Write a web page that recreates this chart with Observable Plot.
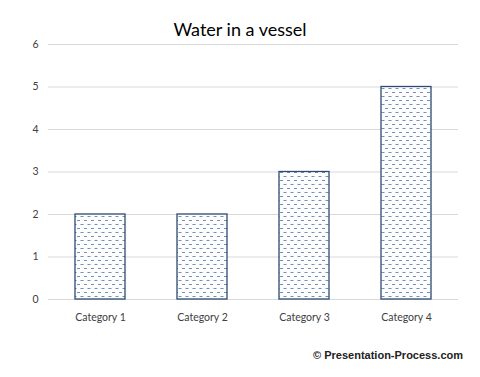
<!DOCTYPE html>
<html>
<head>
<meta charset="utf-8">
<script src="https://cdn.jsdelivr.net/npm/d3@7"></script>
<script src="https://cdn.jsdelivr.net/npm/@observablehq/plot@0.6"></script>
<style>
  html, body { margin: 0; padding: 0; background: #fff; }
  #wrap { position: relative; width: 480px; height: 377px; overflow: hidden; background: #fff; }
  #title { position: absolute; top: 18px; left: 0; width: 480px; text-align: center; z-index: 2;
           font-family: Lato, "Open Sans", sans-serif; font-size: 18px; color: #000; }
  #chart { position: absolute; top: 34px; left: 0; z-index: 1; }
  #credit { position: absolute; top: 349px; right: 17px; font-family: "Liberation Sans", Arial, sans-serif;
            font-weight: bold; font-size: 11px; color: #222; z-index: 2; }
</style>
</head>
<body>
<div id="wrap">
  <div id="chart"></div>
  <div id="title">Water in a vessel</div>
  <div id="credit">© Presentation-Process.com</div>
</div>
<script>
const categories = ["Category 1", "Category 2", "Category 3", "Category 4"];
const values = [2, 2, 3, 5];
const yTicks = [0, 1, 2, 3, 4, 5, 6];

const data = categories.map((c, i) => ({category: c, value: values[i]}));

const plot = Plot.plot({
  width: 480,
  height: 296,
  marginTop: 10,
  marginBottom: 31,
  marginLeft: 48,
  marginRight: 22,
  style: {fontFamily: "Lato, 'Open Sans', sans-serif", fontSize: "10.5px", color: "#404040", background: "transparent"},
  x: {domain: categories, paddingInner: 0.51, paddingOuter: 0.255, label: null},
  y: {domain: [0, 6], ticks: yTicks, label: null},
  marks: [
    Plot.ruleY(yTicks, {stroke: "#d9d9d9", strokeWidth: 1}),
    Plot.barY(data, {x: "category", y: "value", fill: "url(#water)", stroke: "#2c4a72", strokeWidth: 1.3}),
    Plot.axisY({ticks: yTicks, tickSize: 0, tickPadding: 10, tickFormat: d => d, fill: "#404040"}),
    Plot.axisX({tickSize: 0, tickPadding: 14, fill: "#404040"})
  ]
});

const ns = "http://www.w3.org/2000/svg";
const defs = document.createElementNS(ns, "defs");
defs.innerHTML = `
  <pattern id="water" patternUnits="userSpaceOnUse" width="7" height="8">
    <rect width="7" height="8" fill="#ffffff"/>
    <line x1="0" y1="2.5" x2="3" y2="2.5" stroke="#7190b8" stroke-width="1"/>
    <line x1="3.5" y1="6.5" x2="6.5" y2="6.5" stroke="#7190b8" stroke-width="1"/>
  </pattern>`;
plot.insertBefore(defs, plot.firstChild);
document.getElementById("chart").appendChild(plot);
</script>
</body>
</html>
